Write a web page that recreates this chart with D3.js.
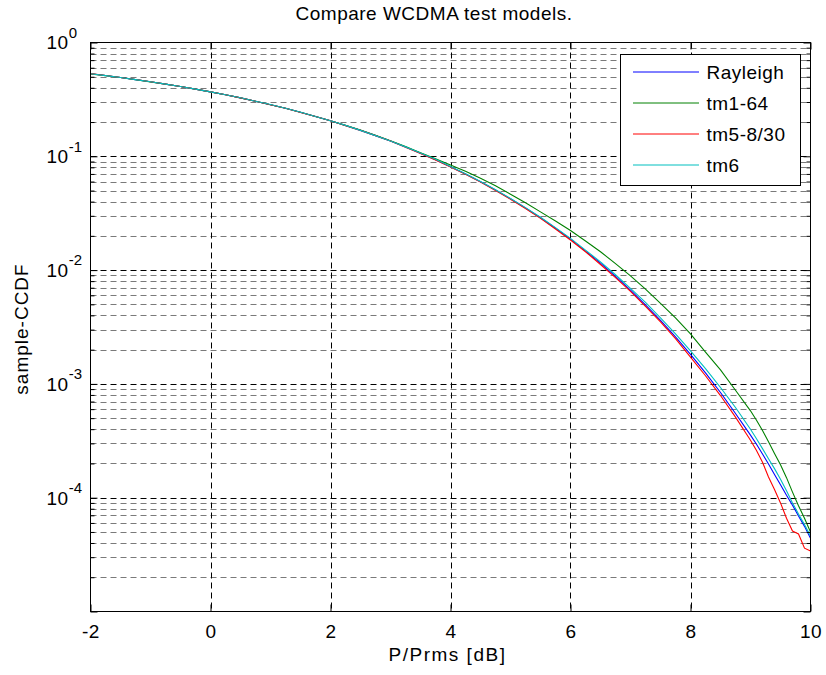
<!DOCTYPE html>
<html>
<head>
<meta charset="utf-8">
<script src="https://cdn.jsdelivr.net/npm/d3@7"></script>
<style>
  html, body { margin: 0; padding: 0; background: #fff; }
  svg { display: block; font-family: "Liberation Sans", Arial, sans-serif; }
</style>
</head>
<body>
<svg id="chart" width="826" height="675"></svg>
<script>
// ---------------- DATA ----------------
const xTicks = [-2, 0, 2, 4, 6, 8, 10];
const yExponents = [0, -1, -2, -3, -4];
const seriesNames = ["Rayleigh", "tm1-64", "tm5-8/30", "tm6"];
const seriesColors = ["#0000ff", "#008000", "#ff0000", "#00bfbf"];

const xs = [-2, -1.75, -1.5, -1.25, -1, -0.75, -0.5, -0.25, 0, 0.25, 0.5, 0.75, 1, 1.25, 1.5, 1.75,
  2, 2.25, 2.5, 2.75, 3, 3.25, 3.5, 3.75, 4, 4.25, 4.5, 4.75, 5, 5.25, 5.5, 5.75,
  6, 6.25, 6.5, 6.75, 7, 7.25, 7.5, 7.75, 8, 8.25, 8.5, 8.75, 9,
  9.1, 9.2, 9.3, 9.4, 9.5, 9.6, 9.7, 9.8, 9.9, 10];

const rayleigh = [0.532, 0.513, 0.493, 0.472, 0.452, 0.431, 0.410, 0.389, 0.368, 0.347, 0.326, 0.305, 0.284, 0.264, 0.2435, 0.224,
  0.205, 0.1866, 0.169, 0.152, 0.136, 0.1208, 0.1066, 0.0934, 0.0811, 0.0699, 0.0597, 0.0505, 0.0423, 0.0351, 0.0288, 0.0233,
  0.0187, 0.0147, 0.0115, 0.0088, 0.00666, 0.00495, 0.00361, 0.00259, 0.00182, 0.00125, 0.00084, 0.00055, 0.000355,
  0.000295, 0.000242, 0.000198, 0.00016, 0.00013, 0.000105, 0.000086, 0.000069, 0.000056, 0.000044];

const tm1_64 = [0.530, 0.512, 0.492, 0.472, 0.451, 0.431, 0.410, 0.389, 0.368, 0.347, 0.326, 0.305, 0.284, 0.264, 0.244, 0.224,
  0.205, 0.187, 0.170, 0.153, 0.137, 0.122, 0.1075, 0.095, 0.084, 0.074, 0.064, 0.055, 0.0465, 0.039, 0.0325, 0.027,
  0.0223, 0.018, 0.0145, 0.0114, 0.0089, 0.0068, 0.0051, 0.0038, 0.00275, 0.0019, 0.00133, 0.00088, 0.00058,
  0.00048, 0.00039, 0.00031, 0.000245, 0.000195, 0.00015, 0.000112, 0.000085, 0.000066, 0.00005];

const tm5_8_30 = [0.533, 0.513, 0.493, 0.473, 0.452, 0.431, 0.410, 0.389, 0.368, 0.347, 0.326, 0.305, 0.284, 0.264, 0.243, 0.224,
  0.205, 0.186, 0.169, 0.152, 0.136, 0.120, 0.106, 0.093, 0.0805, 0.0695, 0.0593, 0.0500, 0.0420, 0.0348, 0.0285, 0.0230,
  0.0184, 0.0145, 0.0112, 0.0086, 0.0065, 0.0048, 0.0035, 0.0025, 0.00172, 0.00118, 0.00079, 0.00051, 0.00032,
  0.00026, 0.000205, 0.000152, 0.000118, 0.00009, 0.000066, 0.000051, 0.000048, 0.000036, 0.000034];

const tm6 = [0.531, 0.512, 0.493, 0.472, 0.452, 0.431, 0.411, 0.389, 0.368, 0.347, 0.327, 0.305, 0.285, 0.264, 0.244, 0.224,
  0.205, 0.187, 0.169, 0.152, 0.136, 0.121, 0.107, 0.094, 0.0815, 0.0702, 0.0600, 0.0508, 0.0426, 0.0354, 0.0291, 0.0236,
  0.0190, 0.0150, 0.0118, 0.0091, 0.0069, 0.0052, 0.0038, 0.00275, 0.00195, 0.00136, 0.00093, 0.00062, 0.0004,
  0.00033, 0.00027, 0.00022, 0.00018, 0.000145, 0.000115, 0.00009, 0.000072, 0.000058, 0.000046];

const seriesValues = [rayleigh, tm1_64, tm5_8_30, tm6];

// ---------------- LAYOUT ----------------
const svg = d3.select("#chart");
const L = 90.5, R = 810.5, T = 42.5, B = 611.5;
const x = d3.scaleLinear().domain([-2, 10]).range([L, R]);
const y = d3.scaleLog().domain([1e-5, 1]).range([B, T]);
const FONT = 19;

svg.append("rect").attr("width", 826).attr("height", 675).attr("fill", "#fff");

const minorVals = [], majorVals = [];
for (let e = -5; e <= 0; e++) {
  majorVals.push(Math.pow(10, e));
  if (e < 0) for (let k = 2; k <= 9; k++) minorVals.push(k * Math.pow(10, e));
}

// grid
const grid = svg.append("g");
grid.selectAll(".hmin").data(minorVals).join("line")
  .attr("x1", L).attr("x2", R)
  .attr("y1", d => Math.round(y(d)) + 0.5).attr("y2", d => Math.round(y(d)) + 0.5)
  .attr("stroke", "#7a7a7a").attr("stroke-dasharray", "6,4");
grid.selectAll(".hmaj").data(majorVals.filter(v => v > 1e-5 && v < 1)).join("line")
  .attr("x1", L).attr("x2", R)
  .attr("y1", d => Math.round(y(d)) + 0.5).attr("y2", d => Math.round(y(d)) + 0.5)
  .attr("stroke", "#000").attr("stroke-dasharray", "6,4");
grid.selectAll(".vmaj").data(xTicks.slice(1, -1)).join("line")
  .attr("y1", T).attr("y2", B)
  .attr("x1", d => Math.round(x(d)) + 0.5).attr("x2", d => Math.round(x(d)) + 0.5)
  .attr("stroke", "#000").attr("stroke-dasharray", "6,4");

// curves
svg.append("clipPath").attr("id", "clip").append("rect")
  .attr("x", L).attr("y", T).attr("width", R - L).attr("height", B - T);
const line = d3.line().x(d => x(d[0])).y(d => y(d[1]));
const curves = svg.append("g").attr("clip-path", "url(#clip)");
seriesValues.forEach((vals, i) => {
  curves.append("path")
    .datum(xs.map((xv, j) => [xv, vals[j]]))
    .attr("d", line)
    .attr("fill", "none")
    .attr("stroke", seriesColors[i])
    .attr("stroke-width", 1.1);
});

// axes (ticks inward)
const axB = d3.axisBottom(x).tickValues(xTicks).tickSizeInner(-7).tickSizeOuter(0).tickPadding(13).tickFormat(d => String(d));
const axT = d3.axisTop(x).tickValues(xTicks).tickSizeInner(-7).tickSizeOuter(0).tickFormat("");
const gB = svg.append("g").attr("transform", `translate(0,${B})`).call(axB);
svg.append("g").attr("transform", `translate(0,${T})`).call(axT);
const axLmaj = d3.axisLeft(y).tickValues(majorVals).tickSizeInner(-7).tickSizeOuter(0).tickFormat("");
const axLmin = d3.axisLeft(y).tickValues(minorVals).tickSizeInner(-4).tickSizeOuter(0).tickFormat("");
const axRmaj = d3.axisRight(y).tickValues(majorVals).tickSizeInner(-7).tickSizeOuter(0).tickFormat("");
const axRmin = d3.axisRight(y).tickValues(minorVals).tickSizeInner(-4).tickSizeOuter(0).tickFormat("");
svg.append("g").attr("transform", `translate(${L},0)`).call(axLmin);
svg.append("g").attr("transform", `translate(${L},0)`).call(axLmaj);
svg.append("g").attr("transform", `translate(${R},0)`).call(axRmin);
svg.append("g").attr("transform", `translate(${R},0)`).call(axRmaj);
svg.selectAll(".domain").remove();
svg.selectAll(".tick line").attr("stroke", "#000");
gB.selectAll(".tick text")
  .attr("font-size", FONT).attr("fill", "#000")
  .style("letter-spacing", "0.5px")
  .attr("font-family", "Liberation Sans, Arial, sans-serif");

// box
svg.append("rect").attr("x", L).attr("y", T).attr("width", R - L).attr("height", B - T)
  .attr("fill", "none").attr("stroke", "#000").attr("stroke-width", 1);

// y tick labels 10^e
const yl = svg.append("g");
yExponents.forEach(e => {
  const yy = y(Math.pow(10, e));
  const t = yl.append("text").attr("x", 46.5).attr("y", yy + 6.8)
    .attr("font-size", FONT).style("letter-spacing", "0.5px").attr("fill", "#000");
  t.append("tspan").text("10");
  t.append("tspan").attr("dy", -11.5).attr("font-size", 15).style("letter-spacing", "0px").text(String(e));
});

// title and axis labels
svg.append("text").attr("x", 434).attr("y", 20).attr("text-anchor", "middle")
  .attr("font-size", FONT).style("letter-spacing", "0.5px").text("Compare WCDMA test models.");
svg.append("text").attr("x", (L + R) / 2 - 3).attr("y", 661).attr("text-anchor", "middle")
  .attr("font-size", FONT).style("letter-spacing", "1.5px").text("P/Prms [dB]");
svg.append("text").attr("transform", `translate(28,${(T + B) / 2 + 2}) rotate(-90)`).attr("text-anchor", "middle")
  .attr("font-size", FONT).style("letter-spacing", "1px").text("sample-CCDF");

// legend
const lg = svg.append("g");
lg.append("rect").attr("x", 620.5).attr("y", 54.5).attr("width", 180).attr("height", 131)
  .attr("fill", "#fff").attr("stroke", "#000");
seriesNames.forEach((name, i) => {
  const ry = 72 + i * 31;
  lg.append("line").attr("x1", 633).attr("x2", 699).attr("y1", ry).attr("y2", ry)
    .attr("stroke", seriesColors[i]).attr("stroke-width", 1);
  lg.append("text").attr("x", 706.5).attr("y", ry + 6.5).attr("font-size", FONT)
    .style("letter-spacing", "0.5px").text(name);
});
</script>
</body>
</html>
